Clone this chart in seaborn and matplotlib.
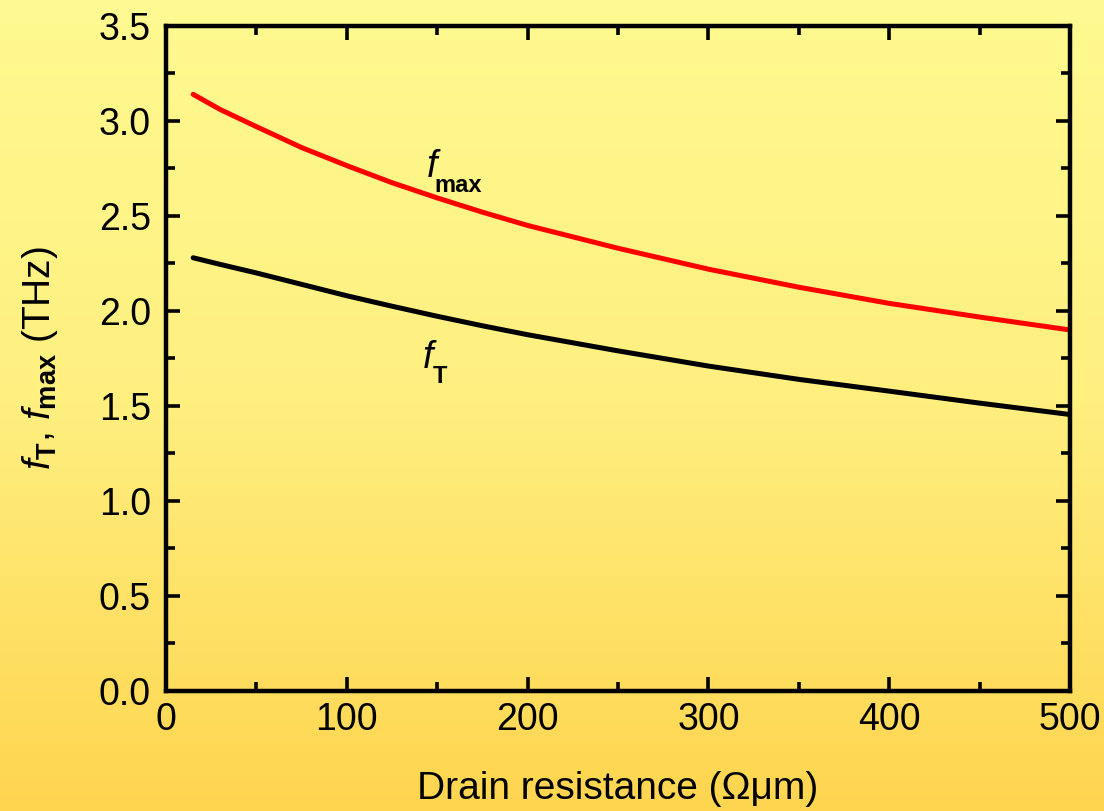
import numpy as np
import pandas as pd
import matplotlib
matplotlib.use("Agg")
import matplotlib.pyplot as plt
from matplotlib.colors import LinearSegmentedColormap
from matplotlib.ticker import MultipleLocator, FormatStrFormatter
import seaborn as sns

# Drain resistance (Ohm·um) and the corresponding cutoff frequencies (THz)
drain_resistance = [15, 30, 50, 75, 100, 125, 150, 175, 200, 250, 300, 350, 400, 450, 500]
f_max = [3.14, 3.06, 2.97, 2.86, 2.765, 2.675, 2.595, 2.52, 2.45, 2.33, 2.22, 2.125,
         2.04, 1.968, 1.90]
f_t = [2.28, 2.245, 2.20, 2.14, 2.08, 2.025, 1.972, 1.922, 1.875, 1.79, 1.71, 1.64,
       1.578, 1.515, 1.455]

sns.set_theme(style="ticks")
plt.rcParams["font.family"] = ["Liberation Sans", "DejaVu Sans"]
plt.rcParams["mathtext.fontset"] = "custom"
plt.rcParams["mathtext.rm"] = "Liberation Sans"
plt.rcParams["mathtext.it"] = "Liberation Sans:italic"
plt.rcParams["mathtext.bf"] = "Liberation Sans:bold"

df = pd.DataFrame({"R": drain_resistance, "fmax": f_max, "fT": f_t})

fig = plt.figure(figsize=(11.04, 8.11), dpi=100)

# Vertical yellow gradient behind everything
bg = fig.add_axes([0, 0, 1, 1], zorder=-10)
cmap = LinearSegmentedColormap.from_list("bg", ["#FFFA91", "#FEEF7F", "#FED54F"])
grad = np.linspace(0, 1, 256).reshape(-1, 1)
bg.imshow(grad, aspect="auto", cmap=cmap, extent=[0, 1, 0, 1], origin="upper")
bg.set_axis_off()

ax = fig.add_axes([0.1504, 0.148, 0.8188, 0.820])
ax.set_facecolor("none")

sns.lineplot(data=df, x="R", y="fmax", ax=ax, color="#FF0000", linewidth=3.6)
sns.lineplot(data=df, x="R", y="fT", ax=ax, color="black", linewidth=3.6)

ax.set_xlim(0, 500)
ax.set_ylim(0, 3.5)
ax.xaxis.set_major_locator(MultipleLocator(100))
ax.xaxis.set_minor_locator(MultipleLocator(50))
ax.yaxis.set_major_locator(MultipleLocator(0.5))
ax.yaxis.set_minor_locator(MultipleLocator(0.25))
ax.yaxis.set_major_formatter(FormatStrFormatter("%.1f"))

for side in ["left", "right", "top", "bottom"]:
    ax.spines[side].set_visible(True)
    ax.spines[side].set_linewidth(3.2)
    ax.spines[side].set_color("black")

ax.tick_params(which="both", direction="in", top=True, right=True,
               color="black", width=2.6)
ax.tick_params(which="major", length=10, labelsize=27, pad=8, labelcolor="black")
ax.tick_params(which="minor", length=6.5)
ax.tick_params(axis="y", which="major", pad=11)

ax.set_xlabel("Drain resistance (\u03a9\u03bcm)", fontsize=28, labelpad=24, color="black")
ax.set_ylabel(r"$f_{\mathbf{T}}$, $f_{\mathbf{max}}$ (THz)", fontsize=28, labelpad=28,
              color="black")

# Curve labels: italic f with a bold subscript
ax.text(144, 2.705, "f", fontsize=27, fontstyle="italic", color="black",
        ha="left", va="baseline")
ax.text(148.5, 2.626, "max", fontsize=17, fontweight="bold", color="black",
        ha="left", va="baseline")
ax.text(142, 1.70, "f", fontsize=27, fontstyle="italic", color="black",
        ha="left", va="baseline")
ax.text(147.5, 1.62, "T", fontsize=17, fontweight="bold", color="black",
        ha="left", va="baseline")

fig.savefig("out.png", dpi=100)
